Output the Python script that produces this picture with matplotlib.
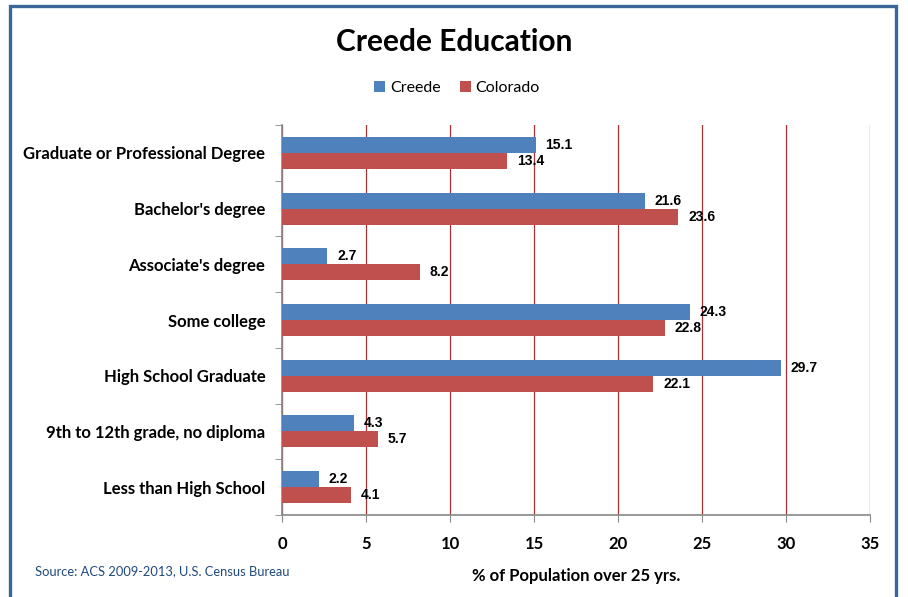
import matplotlib.pyplot as plt
from matplotlib.patches import Rectangle
import numpy as np

categories = ["Graduate or Professional Degree", "Bachelor's degree", "Associate's degree",
              "Some college", "High School Graduate", "9th to 12th grade, no diploma",
              "Less than High School"]
creede = [15.1, 21.6, 2.7, 24.3, 29.7, 4.3, 2.2]
colorado = [13.4, 23.6, 8.2, 22.8, 22.1, 5.7, 4.1]
xticks = [0, 5, 10, 15, 20, 25, 30, 35]

blue = '#4F81BD'
red = '#C0504D'
grid_red = '#A93236'

plt.rcParams['font.family'] = ['Lato', 'DejaVu Sans']

fig = plt.figure(figsize=(9.08, 5.97), dpi=100)
ax = fig.add_axes([282/908, 1-515/597, 588/908, 390/597])

y = np.arange(len(categories))
h = 0.286
ax.barh(y - h/2, creede, height=h, color=blue, label='Creede', zorder=3)
ax.barh(y + h/2, colorado, height=h, color=red, label='Colorado', zorder=3)

for yi, v in zip(y, creede):
    ax.annotate(f'{v}', (v, yi - h/2), xytext=(7, 0), textcoords='offset points',
                va='center', ha='left', fontsize=10, fontweight='bold',
                family='Liberation Sans', zorder=4)
for yi, v in zip(y, colorado):
    ax.annotate(f'{v}', (v, yi + h/2), xytext=(7, 0), textcoords='offset points',
                va='center', ha='left', fontsize=10, fontweight='bold',
                family='Liberation Sans', zorder=4)

ax.set_xlim(0, 35)
ax.set_ylim(len(categories) - 0.5, -0.5)
ax.set_xticks(xticks)
ax.set_xticklabels([str(t) for t in xticks], fontsize=12, fontweight='bold')
ax.set_yticks(y)
ax.set_yticklabels(categories, fontsize=12, fontweight='bold')
ax.tick_params(axis='y', length=0, pad=12)
ax.set_yticks(np.arange(len(categories) + 1) - 0.5, minor=True)
ax.tick_params(axis='y', which='minor', length=5, color='#888888', direction='out')
ax.tick_params(axis='x', length=5, color='#888888', direction='out', pad=10)
ax.xaxis.grid(True, color=grid_red, linewidth=0.9, zorder=0)
ax.set_axisbelow(True)

for s in ['top', 'right']:
    ax.spines[s].set_visible(False)
for s in ['left', 'bottom']:
    ax.spines[s].set_color('#888888')
    ax.spines[s].set_linewidth(1.2)

ax.set_xlabel('% of Population over 25 yrs.', fontsize=12, fontweight='bold', labelpad=12)

fig.text(454/908, 1-42/597, 'Creede Education', ha='center', va='center',
         fontsize=21.5, fontweight='bold')
fig.legend(loc='center', bbox_to_anchor=(457/908, 1-88/597), ncol=2, frameon=False,
           fontsize=11.5, handlelength=0.7, handleheight=0.7, handletextpad=0.3,
           columnspacing=1.2)
fig.text(35/908, 1-571/597, 'Source: ACS 2009-2013, U.S. Census Bureau', ha='left',
         va='center', fontsize=9.3, color='#1F497D')

frame = Rectangle((10/908, -0.05), 886/908, 1.05 - 6/597, transform=fig.transFigure,
                  fill=False, edgecolor='#3B6698', linewidth=2.4, clip_on=False)
fig.patches.append(frame)

fig.savefig('out.png', dpi=100)
